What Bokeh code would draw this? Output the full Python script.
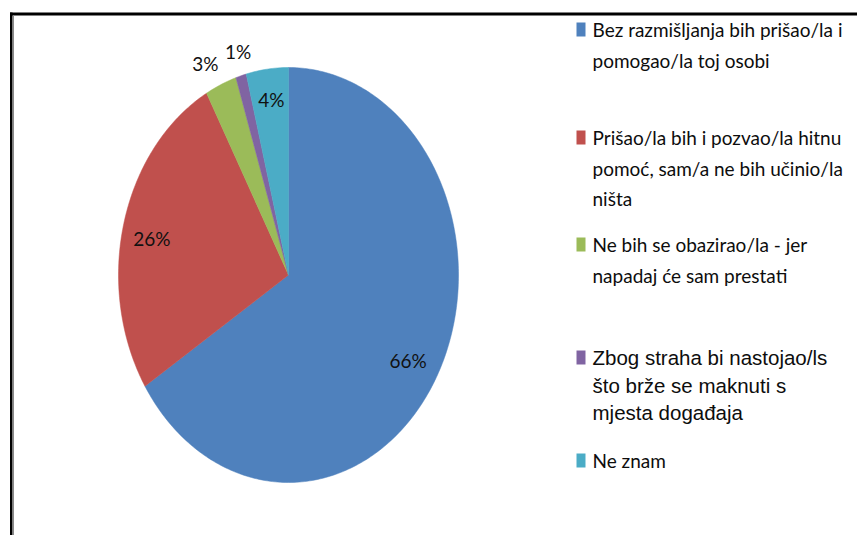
import math
from bokeh.plotting import figure
from bokeh.models import Range1d
from bokeh.core.properties import value
from bokeh.embed import file_html
from bokeh.resources import INLINE

# ---- data ----
categories = [
    "Bez razmišljanja bih prišao/la i\npomogao/la toj osobi",
    "Prišao/la bih i pozvao/la hitnu\npomoć, sam/a ne bih učinio/la\nništa",
    "Ne bih se obazirao/la - jer\nnapadaj će sam prestati",
    "Zbog straha bi nastojao/ls\nšto brže se maknuti s\nmjesta događaja",
    "Ne znam",
]
shares = [66, 26, 3, 1, 4]
pct_labels = ["66%", "26%", "3%", "1%", "4%"]

# ---- styles / layout ----
colors = ["#4F81BD", "#C0504D", "#9BBB59", "#8064A2", "#4BACC6"]
label_radius = [0.83, 0.83, 1.113, 1.124, 0.85]
label_dx = [-4, 0, -8, 3, 1]
label_dy = [3, 6, 0, 0, -1]
legend_first_line_y = [29, 137, 244, 357, 460]
legend_line_step = [30.5, 30.5, 30.5, 27.5, 30.5]
legend_fonts = ["Lato", "Lato", "Lato", "Liberation Sans", "Lato"]
legend_sizes = ["19px", "19px", "19px", "20.5px", "19px"]

W, H = 857, 535
p = figure(width=W, height=H, output_backend="svg", toolbar_location=None,
           x_range=Range1d(0, W), y_range=Range1d(H, 0),
           min_border=0, outline_line_color=None)
p.axis.visible = False
p.xgrid.visible = False
p.ygrid.visible = False
p.background_fill_color = "white"
p.border_fill_color = "white"

# frame (top and left borders)
p.quad(left=[9.5], right=[W], top=[12], bottom=[15], fill_color="black", line_color=None)
p.quad(left=[9.5], right=[12], top=[12], bottom=[H], fill_color="black", line_color=None)
p.quad(left=[12.5], right=[13.5], top=[15], bottom=[H], fill_color="#8a8a8a", line_color=None)

# pie (ellipse)
cx, cy, rx, ry = 288.0, 274.5, 170.0, 207.5
total = float(sum(shares))
xs, ys = [], []
lx, ly = [], []
start = 0.0
for i, s in enumerate(shares):
    frac0 = start / total
    frac1 = (start + s) / total
    n = max(4, int(400 * (frac1 - frac0)))
    px, py = [cx], [cy]
    for k in range(n + 1):
        t = 2 * math.pi * (frac0 + (frac1 - frac0) * k / n)
        px.append(cx + rx * math.sin(t))
        py.append(cy - ry * math.cos(t))
    xs.append(px)
    ys.append(py)
    tm = 2 * math.pi * (frac0 + frac1) / 2
    lx.append(cx + rx * label_radius[i] * math.sin(tm) + label_dx[i])
    ly.append(cy - ry * label_radius[i] * math.cos(tm) + label_dy[i])
    start += s

p.patches(xs=xs, ys=ys, fill_color=colors, line_color=colors, line_width=0.5)

p.text(x=lx, y=ly, text=pct_labels, text_align="center", text_baseline="middle",
       text_font=value("Lato"), text_font_size="19px", text_color="#111111")

# legend
sq_x = 580.5
p.rect(x=[sq_x] * 5, y=legend_first_line_y, width=9, height=14,
       width_units="screen", height_units="screen",
       fill_color=colors, line_color=None)
for i, lab in enumerate(categories):
    lines = lab.split("\n")
    yy = [legend_first_line_y[i] + k * legend_line_step[i] for k in range(len(lines))]
    p.text(x=[592] * len(lines), y=yy, text=lines, text_align="left",
           text_baseline="middle", text_font=value(legend_fonts[i]),
           text_font_size=legend_sizes[i], text_color="#0d0d0d")

open("out.html", "w").write(file_html(p, INLINE))
